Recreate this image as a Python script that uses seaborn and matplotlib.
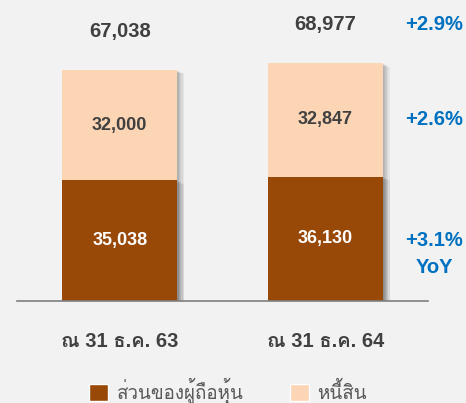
import matplotlib
matplotlib.use("Agg")
import matplotlib.pyplot as plt
import matplotlib.patheffects as pe
from matplotlib import font_manager
from matplotlib.ft2font import FT2Font
from matplotlib.patches import Patch
import seaborn as sns
import pandas as pd

# ข้อมูล (ล้านบาท)
periods = ["ณ 31 ธ.ค. 63", "ณ 31 ธ.ค. 64"]
equity = [35038, 36130]
liabilities = [32000, 32847]
totals = [67038, 68977]
growth_labels = ["+2.9%", "+2.6%", "+3.1%", "YoY"]
legend_labels = ["ส่วนของผู้ถือหุ้น", "หนี้สิน"]

BROWN = "#984807"
PEACH = "#FCD5B5"
DARK = "#404040"
BLUE = "#0070C0"
BG = "#F2F2F2"

sns.set_theme(style="white")

# หาฟอนต์ที่มีอักษรไทย
thai_fams = []
for f in font_manager.fontManager.ttflist:
    try:
        if 0x0E2A in FT2Font(f.fname).get_charmap() and f.name not in thai_fams:
            thai_fams.append(f.name)
    except Exception:
        pass
plt.rcParams["font.family"] = ["Liberation Sans"] + thai_fams + ["DejaVu Sans"]

df = pd.DataFrame({"period": periods, "equity": equity, "total": totals})

fig = plt.figure(figsize=(4.66, 4.03), dpi=100, facecolor=BG)
ax = fig.add_axes([17 / 466, 1 - 301 / 403, 411 / 466, 281 / 403])
ax.set_facecolor(BG)

# เงาแบบนุ่ม ๆ ด้านขวา
shadow = [pe.SimplePatchShadow(offset=(o, -o * 0.5), shadow_rgbFace="#606060", alpha=0.09)
          for o in (5, 4, 3, 2.2, 1.5, 1)] + [pe.Normal()]
sns.barplot(data=df, x="period", y="total", color=PEACH, width=0.56, saturation=1, ax=ax)
sns.barplot(data=df, x="period", y="equity", color=BROWN, width=0.56, saturation=1, ax=ax)
for p in ax.patches:
    p.set_path_effects(shadow)
    p.set_edgecolor("none")

ax.set_xlim(-0.5, 1.5)
ax.set_ylim(0, 281 / (231 / 67038))
ax.set_xlabel("")
ax.set_ylabel("")
ax.set_yticks([])
for s in ["top", "left", "right"]:
    ax.spines[s].set_visible(False)
ax.spines["bottom"].set_color("#7f7f7f")
ax.spines["bottom"].set_linewidth(1.2)
ax.spines["bottom"].set_zorder(5)
ax.tick_params(axis="x", length=0, pad=22)
for t in ax.get_xticklabels():
    t.set_fontsize(14.5)
    t.set_fontweight("bold")
    t.set_color(DARK)

# ป้ายตัวเลข
for i in range(len(periods)):
    ax.text(i, equity[i] / 2, f"{equity[i]:,}", ha="center", va="center",
            fontsize=13, fontweight="bold", color="white")
    ax.text(i, equity[i] + liabilities[i] / 2, f"{liabilities[i]:,}", ha="center", va="center",
            fontsize=13, fontweight="bold", color=DARK)
    ax.annotate(f"{totals[i]:,}", (i, totals[i]), xytext=(0, 28), textcoords="offset points",
                ha="center", va="center", fontsize=14.5, fontweight="bold", color=DARK)

# การเติบโต YoY
gx = 1.53
blue_kw = dict(textcoords="offset points", ha="center", va="center", fontsize=14.5,
               fontweight="bold", color=BLUE, annotation_clip=False)
ax.annotate(growth_labels[0], (gx, totals[1]), xytext=(0, 28), **blue_kw)
ax.annotate(growth_labels[1], (gx, equity[1] + liabilities[1] / 2), xytext=(0, 0), **blue_kw)
ax.annotate(growth_labels[2], (gx, equity[1] / 2), xytext=(0, -1), **blue_kw)
ax.annotate(growth_labels[3], (gx, equity[1] / 2), xytext=(0, -21), **blue_kw)

handles = [Patch(facecolor=BROWN), Patch(facecolor=PEACH)]
fig.legend(handles, legend_labels, loc="center", bbox_to_anchor=(0.49, 1 - 391 / 403), ncol=2,
           frameon=False, fontsize=13.5, labelcolor="#595959", handlelength=1.0, handleheight=1.0,
           handletextpad=0.45, columnspacing=2.5)

fig.savefig("out.png", dpi=100, facecolor=BG)
